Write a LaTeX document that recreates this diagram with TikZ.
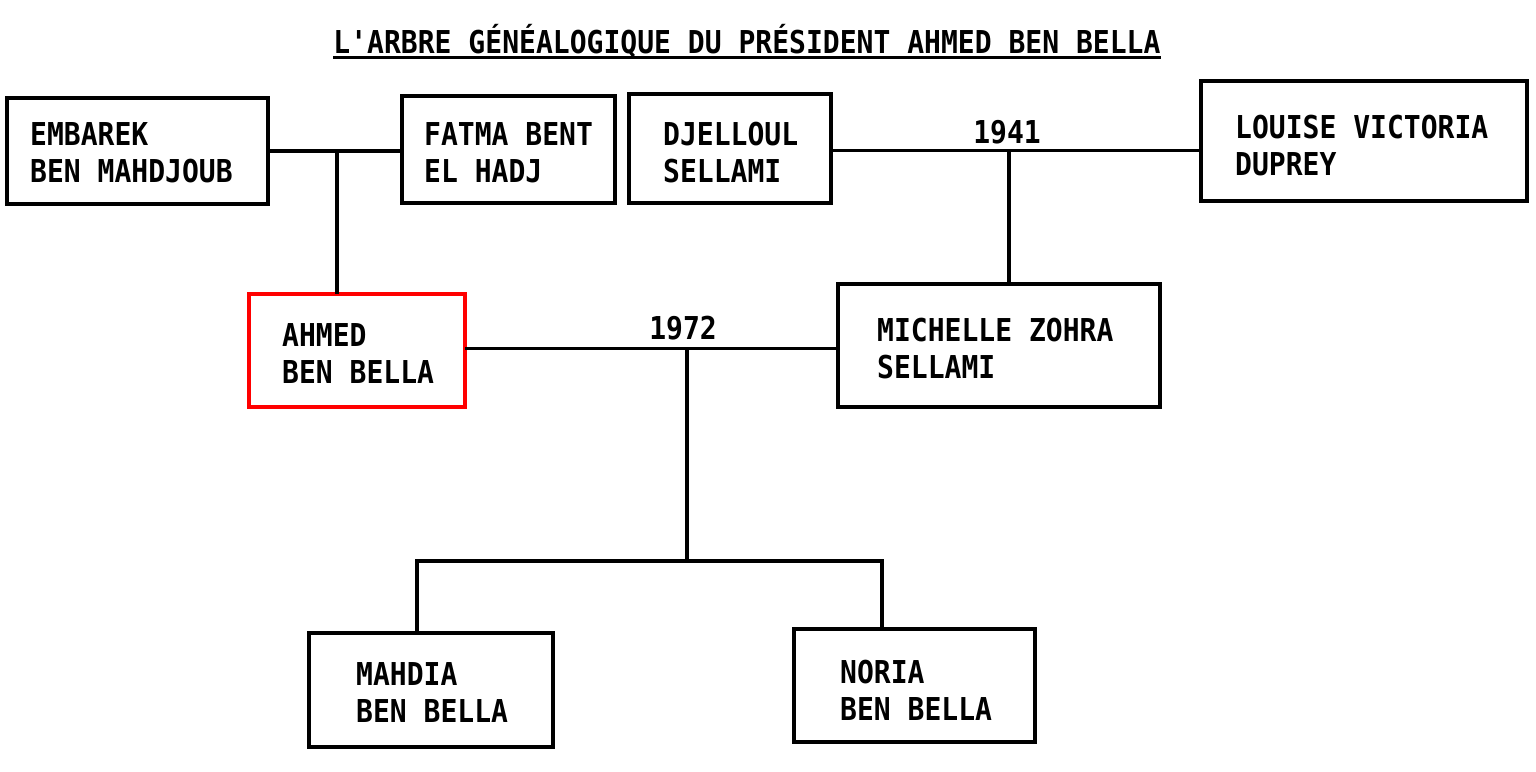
\documentclass[tikz,border=0pt]{standalone}
\usepackage{fontspec}
\newfontfamily\treefont[FakeStretch=0.89]{DejaVu Sans Mono}
\begin{document}
\begin{tikzpicture}[x=1pt,y=-1pt,
  every node/.style={font=\treefont\bfseries\fontsize{31.5}{37}\selectfont},
  pbox/.style={draw=black, line width=4pt, inner sep=0pt, outer sep=0pt},
  selfbox/.style={pbox, draw=red},
  ptext/.style={anchor=base west, inner sep=0pt},
  conn/.style={draw=black, line width=3.4pt},
  year/.style={anchor=base, inner sep=0pt}]
\useasboundingbox[fill=white] (0,0) rectangle (1536,771);

% title
\node[anchor=base, inner sep=0pt] (title) at (747,53) {L'ARBRE GÉNÉALOGIQUE DU PRÉSIDENT AHMED BEN BELLA};
\draw[line width=2.4pt] ([yshift=-4.5pt]title.base west) -- ([yshift=-4.5pt]title.base east);

% boxes
\node[pbox, minimum width=261pt, minimum height=106pt] (emb) at (137.5,151) {};
\node[pbox, minimum width=213pt, minimum height=107pt] (fat) at (508.5,149.5) {};
\node[pbox, minimum width=202pt, minimum height=109pt] (dje) at (730,148.5) {};
\node[pbox, minimum width=326pt, minimum height=120pt] (lou) at (1364,141) {};
\node[selfbox, minimum width=216pt, minimum height=113pt] (ahm) at (357,350.5) {};
\node[pbox, minimum width=322pt, minimum height=123pt] (mic) at (999,345.5) {};
\node[pbox, minimum width=244pt, minimum height=114pt] (mah) at (431,690) {};
\node[pbox, minimum width=241pt, minimum height=113pt] (nor) at (914.5,685.5) {};

% texts
\node[ptext] (embt) at (30,145) {\begin{tabular}[t]{@{}l@{}}EMBAREK\\BEN MAHDJOUB\end{tabular}};
\node[ptext] (fatt) at (424,145) {\begin{tabular}[t]{@{}l@{}}FATMA BENT\\EL HADJ\end{tabular}};
\node[ptext] (djet) at (663,145) {\begin{tabular}[t]{@{}l@{}}DJELLOUL\\SELLAMI\end{tabular}};
\node[ptext] (lout) at (1235,138) {\begin{tabular}[t]{@{}l@{}}LOUISE VICTORIA\\DUPREY\end{tabular}};
\node[ptext] (ahmt) at (282,346) {\begin{tabular}[t]{@{}l@{}}AHMED\\BEN BELLA\end{tabular}};
\node[ptext] (mict) at (877,341) {\begin{tabular}[t]{@{}l@{}}MICHELLE ZOHRA\\SELLAMI\end{tabular}};
\node[ptext] (maht) at (356,685) {\begin{tabular}[t]{@{}l@{}}MAHDIA\\BEN BELLA\end{tabular}};
\node[ptext] (nort) at (840,683) {\begin{tabular}[t]{@{}l@{}}NORIA\\BEN BELLA\end{tabular}};

% connectors: Embarek + Fatma -> Ahmed
\coordinate (m0) at (337,151);
\draw[conn] (emb.east) -- (m0 -| fat.west);
\draw[conn] (m0) -- (m0 |- ahm.north);

% Djelloul + Louise -> Michelle
\coordinate (m1) at (1009,150.5);
\draw[conn] (m1 -| dje.east) -- (m1 -| lou.west);
\draw[conn] (m1) -- (m1 |- mic.north);
\node[year] (y1941) at (1007,143) {1941};

% Ahmed + Michelle -> children
\coordinate (m2) at (687,348.5);
\draw[conn] (m2 -| ahm.east) -- (m2 -| mic.west);
\node[year] (y1972) at (683,339) {1972};
\coordinate (k) at (687,561);
\coordinate (kl) at (417,561);
\coordinate (kr) at (882,561);
\draw[conn] (m2) -- (k);
\draw[conn, line join=miter] (kl |- mah.north) -- (kl) -- (kr) -- (kr |- nor.north);
\end{tikzpicture}
\end{document}
